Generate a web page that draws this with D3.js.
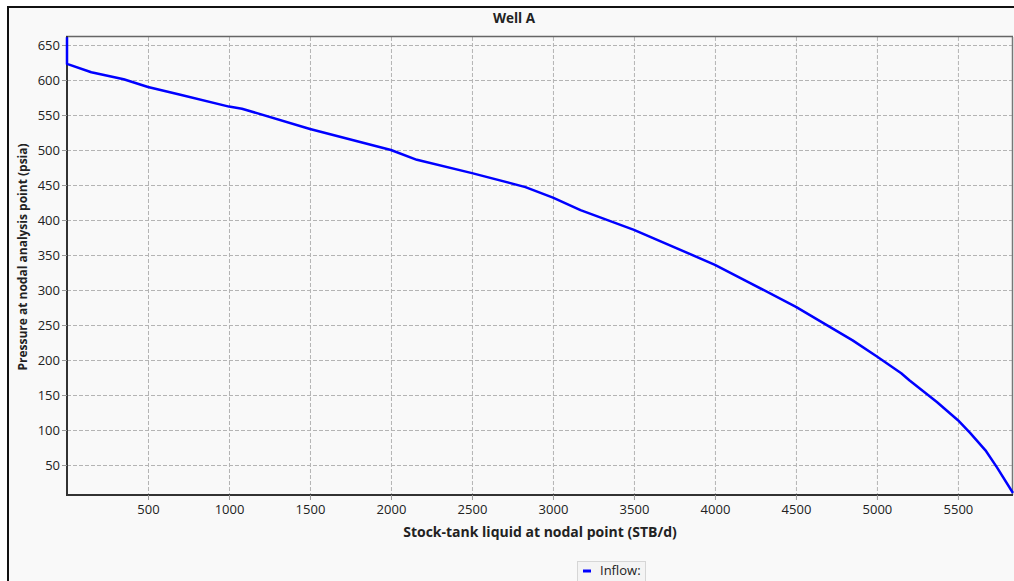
<!DOCTYPE html>
<html>
<head>
<meta charset="utf-8">
<script src="https://cdn.jsdelivr.net/npm/d3@7"></script>
<style>
  body { margin: 0; background: #fff; overflow: hidden; }
  text { font-family: "Open Sans", "Noto Sans", sans-serif; fill: #222; }
</style>
</head>
<body>
<div id="chart"></div>
<script>
// inflow curve
const rate = [0, 0, 150, 350, 500, 700, 1000, 1080, 1500, 2000, 2160, 2500, 2830, 3000, 3170, 3500,
              4000, 4200, 4500, 4850, 5000, 5150, 5200, 5370, 5500, 5575, 5670, 5740, 5840];
const pressure = [661, 623, 611, 601, 590, 579, 562, 559, 530, 500, 486, 467, 447, 432, 414, 386,
                  336, 312, 276, 228, 205, 181, 171, 140, 114, 96, 71, 47, 10];
const xTicks = [500, 1000, 1500, 2000, 2500, 3000, 3500, 4000, 4500, 5000, 5500];
const yTicks = [50, 100, 150, 200, 250, 300, 350, 400, 450, 500, 550, 600, 650];
const seriesName = "Inflow:";

const W = 1014, H = 581;
const margin = {top: 37, right: 1, bottom: 86, left: 67};
const width = W - margin.left - margin.right,
      height = H - margin.top - margin.bottom;

const svg = d3.select("#chart").append("svg")
    .attr("width", W)
    .attr("height", H);

// panel + frame
svg.append("rect")
    .attr("x", 8).attr("y", 7)
    .attr("width", W + 10).attr("height", H + 10)
    .attr("fill", "#f9f9f9")
    .attr("stroke", "#111")
    .attr("stroke-width", 2);

svg.append("text")
    .attr("x", 514).attr("y", 23)
    .attr("text-anchor", "middle")
    .attr("font-size", 13.5)
    .attr("font-weight", "bold")
    .text("Well A");

const g = svg.append("g")
    .attr("transform", "translate(" + margin.left + "," + margin.top + ")");

// 35 px per 50 psia, 0 psia sits 5 px below the bottom axis
const x = d3.scaleLinear().domain([0, 5840]).range([0, width]);
const y = d3.scaleLinear()
    .domain([(500 - 495) / 0.7, (500 - 37) / 0.7])
    .range([height, 0]);

// grid
g.append("g")
    .selectAll("line")
    .data(xTicks)
    .join("line")
    .attr("x1", d => x(d) + 0.5).attr("x2", d => x(d) + 0.5)
    .attr("y1", 0).attr("y2", height)
    .attr("stroke", "#b4b4b4")
    .attr("stroke-dasharray", "4,2");

g.append("g")
    .selectAll("line")
    .data(yTicks)
    .join("line")
    .attr("y1", d => Math.round(y(d)) + 0.5).attr("y2", d => Math.round(y(d)) + 0.5)
    .attr("x1", 0).attr("x2", width)
    .attr("stroke", "#b4b4b4")
    .attr("stroke-dasharray", "4,2");

// plot box: top and right in gray
g.append("line")
    .attr("x1", -1).attr("x2", width).attr("y1", -0.5).attr("y2", -0.5)
    .attr("stroke", "#666").attr("stroke-width", 1.5);
g.append("line")
    .attr("x1", width - 0.5).attr("x2", width - 0.5).attr("y1", 0).attr("y2", height)
    .attr("stroke", "#777").attr("stroke-width", 1.5);

// axes
const xAxis = g.append("g")
    .attr("transform", "translate(0," + height + ")")
    .call(d3.axisBottom(x).tickValues(xTicks).tickFormat(d3.format("d")).tickSize(5).tickPadding(5));
const yAxis = g.append("g")
    .call(d3.axisLeft(y).tickValues(yTicks).tickFormat(d3.format("d")).tickSize(5).tickPadding(2));

[xAxis, yAxis].forEach(a => {
    a.select(".domain").attr("stroke", "#333").attr("stroke-width", 2);
    a.selectAll(".tick line").attr("stroke", "#999");
    a.selectAll(".tick text")
        .attr("font-family", "'Open Sans', 'Noto Sans', sans-serif")
        .attr("font-size", 13)
        .attr("fill", "#333");
});
xAxis.select(".domain").attr("d", "M-1,0H" + width);
yAxis.select(".domain").attr("d", "M0,-1V" + height);

// labels
svg.append("text")
    .attr("x", 540).attr("y", 537)
    .attr("text-anchor", "middle")
    .attr("font-size", 14)
    .attr("font-weight", "bold")
    .text("Stock-tank liquid at nodal point (STB/d)");

svg.append("text")
    .attr("transform", "translate(27,257) rotate(-90)")
    .attr("text-anchor", "middle")
    .attr("font-size", 12)
    .attr("font-weight", "bold")
    .text("Pressure at nodal analysis point (psia)");

// curve
const line = d3.line()
    .x((d, i) => x(rate[i]))
    .y(d => y(d));

g.append("path")
    .datum(pressure)
    .attr("d", line)
    .attr("fill", "none")
    .attr("stroke", "#0000ff")
    .attr("stroke-width", 2.5)
    .attr("stroke-linejoin", "round");

// legend (box runs past the window bottom)
const lg = svg.append("g").attr("transform", "translate(577,561)");
lg.append("rect")
    .attr("x", 0.5).attr("y", 0.5)
    .attr("width", 68).attr("height", 30)
    .attr("fill", "#f4f4f4")
    .attr("stroke", "#d6d6d6");
lg.append("line")
    .attr("x1", 6).attr("x2", 14).attr("y1", 10).attr("y2", 10)
    .attr("stroke", "#0000ff").attr("stroke-width", 3);
lg.append("text")
    .attr("x", 23).attr("y", 14)
    .attr("font-size", 13)
    .attr("fill", "#333")
    .text(seriesName);
</script>
</body>
</html>
